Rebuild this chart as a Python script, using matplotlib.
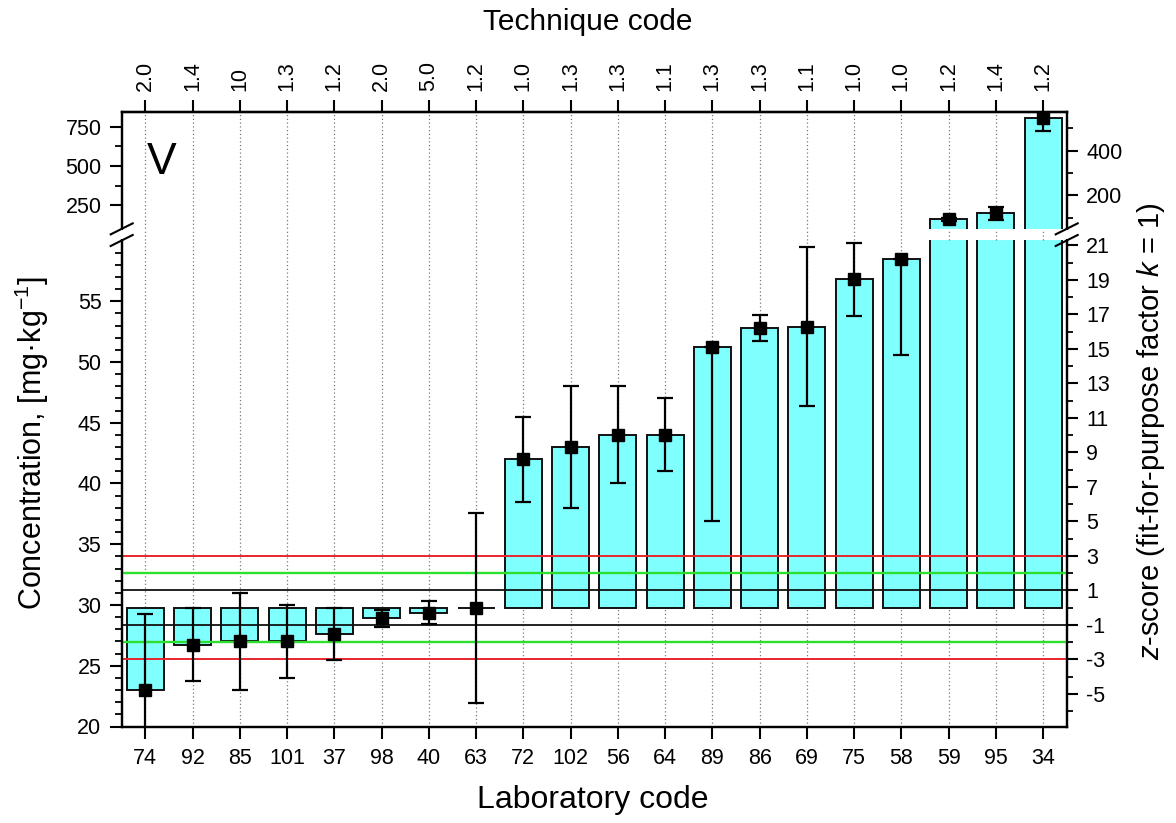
import numpy as np
import matplotlib
matplotlib.use("Agg")
import matplotlib.pyplot as plt
from matplotlib.ticker import FixedLocator, FixedFormatter, NullFormatter
from matplotlib.lines import Line2D
from matplotlib.patches import Rectangle
from matplotlib.transforms import IdentityTransform

# ---------------- data ----------------
lab_codes = ["74", "92", "85", "101", "37", "98", "40", "63", "72", "102",
             "56", "64", "89", "86", "69", "75", "58", "59", "95", "34"]
technique_codes = ["2.0", "1.4", "10", "1.3", "1.2", "2.0", "5.0", "1.2", "1.0", "1.3",
                   "1.3", "1.1", "1.3", "1.3", "1.1", "1.0", "1.0", "1.2", "1.4", "1.2"]
concentration = [23.0, 26.7, 27.0, 27.0, 27.6, 28.96, 29.37, 29.73, 42.0, 43.0,
                 44.0, 44.0, 51.2, 52.8, 52.9, 56.8, 58.5, 162.0, 199.0, 805.0]
err_lower = [6.25, 2.95, 4.0, 3.0, 2.15, 0.77, 0.96, 7.83, 3.55, 5.0,
             4.0, 3.0, 14.3, 1.1, 6.5, 3.0, 7.9, 10.0, 42.0, 83.0]
err_upper = [6.25, 3.05, 4.0, 3.0, 2.15, 0.64, 0.96, 7.83, 3.5, 5.0,
             4.0, 3.0, 0.0, 1.1, 6.6, 3.0, 0.0, 10.0, 38.0, 83.0]
assigned_value = 29.78
sigma_p = 1.42
z_red = [-3, 3]
z_green = [-2, 2]
z_black = [-1, 1]
conc_major = [20, 25, 30, 35, 40, 45, 50, 55, 250, 500, 750]
conc_minor = [v for v in range(21, 60) if v % 5 != 0] + [375, 625]
z_major = [-5, -3, -1, 1, 3, 5, 7, 9, 11, 13, 15, 17, 19, 21, 200, 400]
z_minor = list(range(-6, 21, 2)) + [100, 300, 500]
conc_limits = (20, 841)

# ---------------- broken (piecewise linear) scale ----------------
BRK_LO, BRK_HI = 60.0, 100.0
GAP = 0.958
K_UP = 0.012946


def fwd(c):
    c = np.asarray(c, dtype=float)
    return np.where(c <= BRK_LO, c,
                    np.where(c >= BRK_HI, BRK_LO + GAP + (c - BRK_HI) * K_UP,
                             BRK_LO + (c - BRK_LO) / (BRK_HI - BRK_LO) * GAP))


def inv(t):
    t = np.asarray(t, dtype=float)
    return np.where(t <= BRK_LO, t,
                    np.where(t >= BRK_LO + GAP, BRK_HI + (t - BRK_LO - GAP) / K_UP,
                             BRK_LO + (t - BRK_LO) / GAP * (BRK_HI - BRK_LO)))


def z_fwd(z):
    return fwd(assigned_value + sigma_p * np.asarray(z, dtype=float))


def z_inv(t):
    return (inv(t) - assigned_value) / sigma_p


# ---------------- style ----------------
plt.rcParams['font.family'] = ['Liberation Sans', 'DejaVu Sans']
plt.rcParams['mathtext.fontset'] = 'custom'
plt.rcParams['mathtext.rm'] = 'Liberation Sans'
plt.rcParams['mathtext.it'] = 'Liberation Sans:italic'
plt.rcParams['axes.unicode_minus'] = False

W, H = 1176, 823
fig = plt.figure(figsize=(W / 100, H / 100), dpi=100)
ax = fig.add_axes([121.7 / W, 1 - 726.5 / H, 945 / W, 614.2 / H])
ax.set_yscale('function', functions=(fwd, inv))

x = np.arange(len(lab_codes))
conc = np.array(concentration)
ax.set_xlim(-0.5, len(x) - 0.5)
ax.set_ylim(*conc_limits)

grid_col = '#7a7a7a'
for xi in x:
    ax.axvline(xi, color=grid_col, lw=0.9, ls=(0, (1, 2)), zorder=1)

ax.bar(x, conc - assigned_value, bottom=assigned_value, width=0.78,
       color='#80FFFF', edgecolor='#111111', linewidth=1.4, zorder=2)

for z in z_red:
    ax.axhline(assigned_value + z * sigma_p, color='#E8262B', lw=1.4, zorder=3)
for z in z_green:
    ax.axhline(assigned_value + z * sigma_p, color='#2EE02E', lw=1.7, zorder=3)
for z in z_black:
    ax.axhline(assigned_value + z * sigma_p, color='#111111', lw=1.3, zorder=3)

ax.axhspan(BRK_LO, BRK_HI, color='white', lw=0, zorder=3.2)
ax.vlines(x, BRK_LO, BRK_HI, colors=grid_col, lw=0.9, linestyles=(0, (1, 2)), zorder=3.3)

ax.errorbar(x, conc, yerr=[err_lower, err_upper], fmt='s', color='black',
            ms=9, capsize=6, elinewidth=1.6, capthick=1.6, zorder=4)

# left axis ticks
ax.yaxis.set_major_locator(FixedLocator(conc_major))
ax.yaxis.set_major_formatter(FixedFormatter([str(v) for v in conc_major]))
ax.yaxis.set_minor_locator(FixedLocator(conc_minor))
ax.yaxis.set_minor_formatter(NullFormatter())
ax.set_xticks(x, labels=lab_codes)
ax.tick_params(axis='y', which='major', direction='out', length=8.6, width=1.5,
               labelsize=15.5, pad=6)
ax.tick_params(axis='y', which='minor', direction='out', length=5, width=1.3)
ax.tick_params(axis='x', which='major', direction='out', length=8.6, width=1.5,
               labelsize=15.5, pad=7)

# right z-score axis
ax2 = ax.twinx()
ax2.set_yscale('function', functions=(z_fwd, z_inv))
ax2.set_ylim((conc_limits[0] - assigned_value) / sigma_p,
             (conc_limits[1] - assigned_value) / sigma_p)
ax2.yaxis.set_major_locator(FixedLocator(z_major))
ax2.yaxis.set_major_formatter(FixedFormatter([str(v) for v in z_major]))
ax2.yaxis.set_minor_locator(FixedLocator(z_minor))
ax2.yaxis.set_minor_formatter(NullFormatter())
ax2.tick_params(axis='y', which='major', direction='out', length=8, width=1.5,
                labelsize=15.5, pad=6)
ax2.tick_params(axis='y', which='minor', direction='out', length=4.5, width=1.3)

# top technique axis
secax = ax.secondary_xaxis('top')
secax.set_xticks(x, labels=technique_codes)
secax.tick_params(axis='x', direction='out', length=8.6, width=1.5,
                  labelsize=15.5, pad=7, labelrotation=90)

for a in (ax, ax2):
    for sp in a.spines.values():
        sp.set_linewidth(1.6)
secax.spines['top'].set_linewidth(1.6)

# element label
ax.text(0.0423, 0.918, 'V', transform=ax.transAxes, fontsize=32,
        ha='center', va='center')

# axis titles
fig.text(32 / W, 1 - 443 / H, 'Concentration, [mg·kg$^{-1}$]', rotation=90,
         ha='center', va='center', fontsize=22)
fig.text(1151 / W, 1 - 431 / H, '$z$-score (fit-for-purpose factor $k$ = 1)',
         rotation=90, ha='center', va='center', fontsize=21)
fig.text(593 / W, 1 - 800 / H, 'Laboratory code', ha='center', va='center', fontsize=23)
fig.text(588 / W, 1 - 22 / H, 'Technique code', ha='center', va='center', fontsize=21.5)

# break marks on both spines
y_lo = ax.transData.transform((0, BRK_LO))[1]
y_hi = ax.transData.transform((0, BRK_HI))[1]
x_l = ax.transAxes.transform((0, 0))[0]
x_r = ax.transAxes.transform((1, 0))[0]
ident = IdentityTransform()
for xs in (x_l, x_r):
    fig.add_artist(Rectangle((xs - 4, y_lo + 1.2), 8, (y_hi - y_lo) - 2.4,
                             facecolor='white', edgecolor='none',
                             transform=ident, zorder=5))
    for yy in (y_lo, y_hi):
        fig.add_artist(Line2D([xs - 11, xs + 11], [yy - 5.5, yy + 5.5],
                              color='black', lw=1.5, transform=ident, zorder=6))

fig.savefig('out.png', dpi=100)
